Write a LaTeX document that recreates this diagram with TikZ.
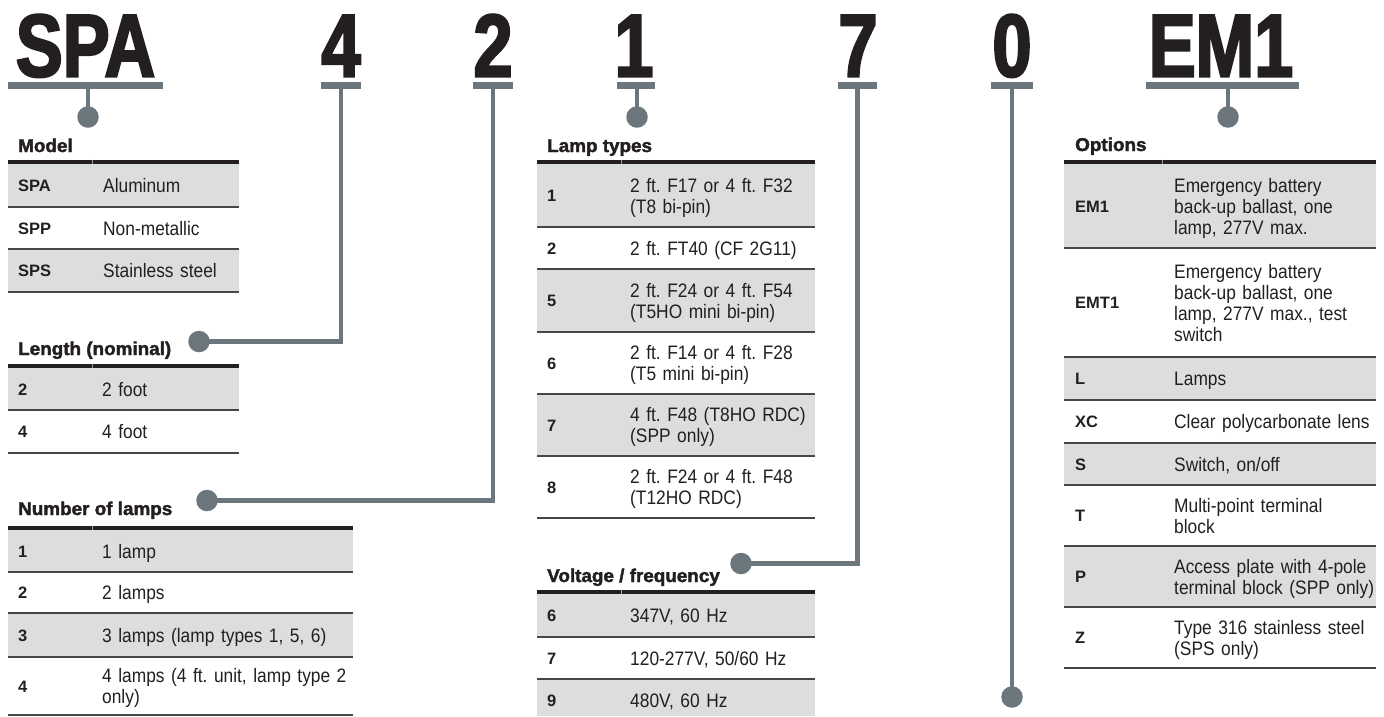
\documentclass[tikz,border=0pt]{standalone}
\usepackage{fontspec}
\setmainfont{Liberation Sans}
\newfontfamily\bodyf{Liberation Sans}[FakeStretch=0.89]
\newfontfamily\titlef{Liberation Sans}[FakeStretch=1.02,BoldFeatures={FakeBold=2}]
\newfontfamily\bigf{Liberation Sans}[FakeStretch=0.79,BoldFeatures={FakeBold=2.5}]
\definecolor{connc}{RGB}{108,118,125}
\definecolor{rowg}{RGB}{220,221,223}
\definecolor{rulec}{RGB}{35,31,32}
\definecolor{sepc}{RGB}{70,70,72}
\definecolor{ink}{RGB}{35,31,32}
\frenchspacing
\begin{document}
\begin{tikzpicture}[x=1pt,y=-1pt,
  hdrt/.style={font=\bigf\bfseries\fontsize{89}{89}\selectfont, text=ink, anchor=base, inner sep=0},
  bart/.style={rectangle, fill=connc, inner sep=0, minimum height=7.5},
  dott/.style={circle, fill=connc, inner sep=0, minimum size=21.5},
  connl/.style={draw=connc, line width=4.5},
  ttlt/.style={font=\titlef\bfseries\fontsize{18.5}{21}\selectfont, text=ink, anchor=base west, inner sep=0},
  keyt/.style={font=\bfseries\fontsize{16.5}{21}\selectfont, text=ink, anchor=base west, inner sep=0},
  valt/.style={font=\bodyf\fontsize{19.5}{21}\selectfont\frenchspacing, text=ink, anchor=base west, inner sep=0, text width=300, align=left},
  sepl/.style={draw=sepc, line width=1.2},
  colgap/.style={draw=white!55!rulec, line width=0.8}
  ]
\useasboundingbox (0,0) rectangle (1384,716);

% ---------- headers ----------
\node[hdrt] (hSPA) at (85.5,76.5) {SPA};
\node[hdrt] (h4) at (341,76.5) {4};
\node[hdrt] (h2) at (493,76.5) {2};
\node[hdrt] (h1) at (634,76.5) {1};
\node[hdrt] (h7) at (858,76.5) {7};
\node[hdrt] (h0) at (1012,76.5) {0};
\node[hdrt] (hEM) at (1221,76.5) {EM1};

\node[bart, minimum width=155] (bSPA) at (85.5,85.5) {};
\node[bart, minimum width=40] (b4) at (341,85.5) {};
\node[bart, minimum width=40] (b2) at (493,85.5) {};
\node[bart, minimum width=38] (b1) at (636,85.5) {};
\node[bart, minimum width=39] (b7) at (857.5,85.5) {};
\node[bart, minimum width=42] (b0) at (1012,85.5) {};
\node[bart, minimum width=153] (bEM) at (1222.5,85.5) {};

% ---------- tables: backgrounds and rules ----------
% Model
\fill[rowg] (8,164) rectangle (239,207);
\fill[rowg] (8,249) rectangle (239,292);
\fill[rulec] (8,159.5) rectangle (239,164);
\draw[colgap] (92,159.5) -- (92,164);
\draw[sepl] (8,207) -- (239,207);
\draw[sepl] (8,249) -- (239,249);
\draw[sepl] (8,292) -- (239,292);
% Length
\fill[rowg] (8,368) rectangle (239,410);
\fill[rulec] (8,363.5) rectangle (239,368);
\draw[colgap] (92,363.5) -- (92,368);
\draw[sepl] (8,410) -- (239,410);
\draw[sepl] (8,453) -- (239,453);
% Number of lamps
\fill[rowg] (8,530) rectangle (353,572);
\fill[rowg] (8,613) rectangle (353,657);
\fill[rulec] (8,525.5) rectangle (353,530);
\draw[colgap] (92,525.5) -- (92,530);
\draw[sepl] (8,572) -- (353,572);
\draw[sepl] (8,613) -- (353,613);
\draw[sepl] (8,657) -- (353,657);
\draw[sepl] (8,715) -- (353,715);
% Lamp types
\fill[rowg] (537,164) rectangle (815,227);
\fill[rowg] (537,269) rectangle (815,332);
\fill[rowg] (537,394) rectangle (815,456);
\fill[rulec] (537,159.5) rectangle (815,164);
\draw[colgap] (621,159.5) -- (621,164);
\foreach \yy in {227,269,332,394,456,518} \draw[sepl] (537,\yy) -- (815,\yy);
% Voltage
\fill[rowg] (537,594) rectangle (815,637);
\fill[rowg] (537,679) rectangle (815,716);
\fill[rulec] (537,589.5) rectangle (815,594);
\draw[colgap] (621,589.5) -- (621,594);
\draw[sepl] (537,637) -- (815,637);
\draw[sepl] (537,679) -- (815,679);
% Options
\fill[rowg] (1064,164) rectangle (1376,248);
\fill[rowg] (1064,357) rectangle (1376,400);
\fill[rowg] (1064,443) rectangle (1376,485);
\fill[rowg] (1064,546) rectangle (1376,607);
\fill[rulec] (1064,159.5) rectangle (1376,164);
\draw[colgap] (1162,159.5) -- (1162,164);
\foreach \yy in {248,357,400,443,485,546,607,668} \draw[sepl] (1064,\yy) -- (1376,\yy);

% ---------- titles ----------
\node[ttlt] (tModel) at (18,152) {Model};
\node[ttlt] (tLen) at (18,355) {Length (nominal)};
\node[ttlt] (tNum) at (18,515) {Number of lamps};
\node[ttlt] (tLamp) at (547,152) {Lamp types};
\node[ttlt] (tVolt) at (547,582) {Voltage / frequency};
\node[ttlt] (tOpt) at (1075,151) {Options};

% ---------- dots and connectors ----------
\node[dott] (dSPA) at (88,117) {};
\node[dott] (d1) at (637,117) {};
\node[dott] (dEM) at (1228,117) {};
\node[dott] (dLen) at (199,341.5) {};
\node[dott] (dNum) at (207,500.5) {};
\node[dott] (dVolt) at (741,563.5) {};
\node[dott] (d0) at (1012,697) {};

\draw[connl] (dSPA |- bSPA.south) -- (dSPA.center);
\draw[connl] (d1 |- b1.south) -- (d1.center);
\draw[connl] (dEM |- bEM.south) -- (dEM.center);
\draw[connl] (b4.south) |- (dLen.center);
\draw[connl] (b2.south) |- (dNum.center);
\draw[connl] (b7.south) |- (dVolt.center);
\draw[connl] (b0.south) -- (d0.center);

% ---------- Model ----------
\node[keyt] (kM1) at (18,191.5) {SPA};
\node[valt] (vM1) at (103,192.5) {Aluminum};
\node[keyt] (kM2) at (18,234) {SPP};
\node[valt] (vM2) at (103,235) {Non-metallic};
\node[keyt] (kM3) at (18,276.5) {SPS};
\node[valt] (vM3) at (103,277.5) {Stainless steel};

% ---------- Length ----------
\node[keyt] (kL1) at (18,395) {2};
\node[valt] (vL1) at (102,396) {2 foot};
\node[keyt] (kL2) at (18,437.5) {4};
\node[valt] (vL2) at (102,438.5) {4 foot};

% ---------- Number of lamps ----------
\node[keyt] (kN1) at (18,557) {1};
\node[valt] (vN1) at (102,558) {1 lamp};
\node[keyt] (kN2) at (18,598.5) {2};
\node[valt] (vN2) at (102,599.5) {2 lamps};
\node[keyt] (kN3) at (18,641) {3};
\node[valt] (vN3) at (102,642) {3 lamps (lamp types 1, 5, 6)};
\node[keyt] (kN4) at (18,692) {4};
\node[valt] (vN4) at (102,682.5) {4 lamps (4 ft. unit, lamp type 2\\only)};

% ---------- Lamp types ----------
\node[keyt] (kT1) at (547,201.5) {1};
\node[valt] (vT1) at (630,192) {2 ft. F17 or 4 ft. F32\\(T8 bi-pin)};
\node[keyt] (kT2) at (547,254) {2};
\node[valt] (vT2) at (630,255) {2 ft. FT40 (CF 2G11)};
\node[keyt] (kT5) at (547,306.5) {5};
\node[valt] (vT5) at (630,297) {2 ft. F24 or 4 ft. F54\\(T5HO mini bi-pin)};
\node[keyt] (kT6) at (547,369) {6};
\node[valt] (vT6) at (630,359.5) {2 ft. F14 or 4 ft. F28\\(T5 mini bi-pin)};
\node[keyt] (kT7) at (547,431) {7};
\node[valt] (vT7) at (630,421.5) {4 ft. F48 (T8HO RDC)\\(SPP only)};
\node[keyt] (kT8) at (547,493) {8};
\node[valt] (vT8) at (630,483.5) {2 ft. F24 or 4 ft. F48\\(T12HO RDC)};

% ---------- Voltage ----------
\node[keyt] (kV6) at (547,621.5) {6};
\node[valt] (vV6) at (630,622.5) {347V, 60 Hz};
\node[keyt] (kV7) at (547,664) {7};
\node[valt] (vV7) at (630,665) {120-277V, 50/60 Hz};
\node[keyt] (kV9) at (547,706) {9};
\node[valt] (vV9) at (630,707) {480V, 60 Hz};

% ---------- Options ----------
\node[keyt] (kO1) at (1075,212) {EM1};
\node[valt] (vO1) at (1174,192) {Emergency battery\\back-up ballast, one\\lamp, 277V max.};
\node[keyt] (kO2) at (1075,308.5) {EMT1};
\node[valt] (vO2) at (1174,278) {Emergency battery\\back-up ballast, one\\lamp, 277V max., test\\switch};
\node[keyt] (kO3) at (1075,384.5) {L};
\node[valt] (vO3) at (1174,385.5) {Lamps};
\node[keyt] (kO4) at (1075,427.5) {XC};
\node[valt] (vO4) at (1174,428.5) {Clear polycarbonate lens};
\node[keyt] (kO5) at (1075,470) {S};
\node[valt] (vO5) at (1174,471) {Switch, on/off};
\node[keyt] (kO6) at (1075,521.5) {T};
\node[valt] (vO6) at (1174,512) {Multi-point terminal\\block};
\node[keyt] (kO7) at (1075,582.5) {P};
\node[valt] (vO7) at (1174,573) {Access plate with 4-pole\\terminal block (SPP only)};
\node[keyt] (kO8) at (1075,643.5) {Z};
\node[valt] (vO8) at (1174,634) {Type 316 stainless steel\\(SPS only)};
\end{tikzpicture}
\end{document}
